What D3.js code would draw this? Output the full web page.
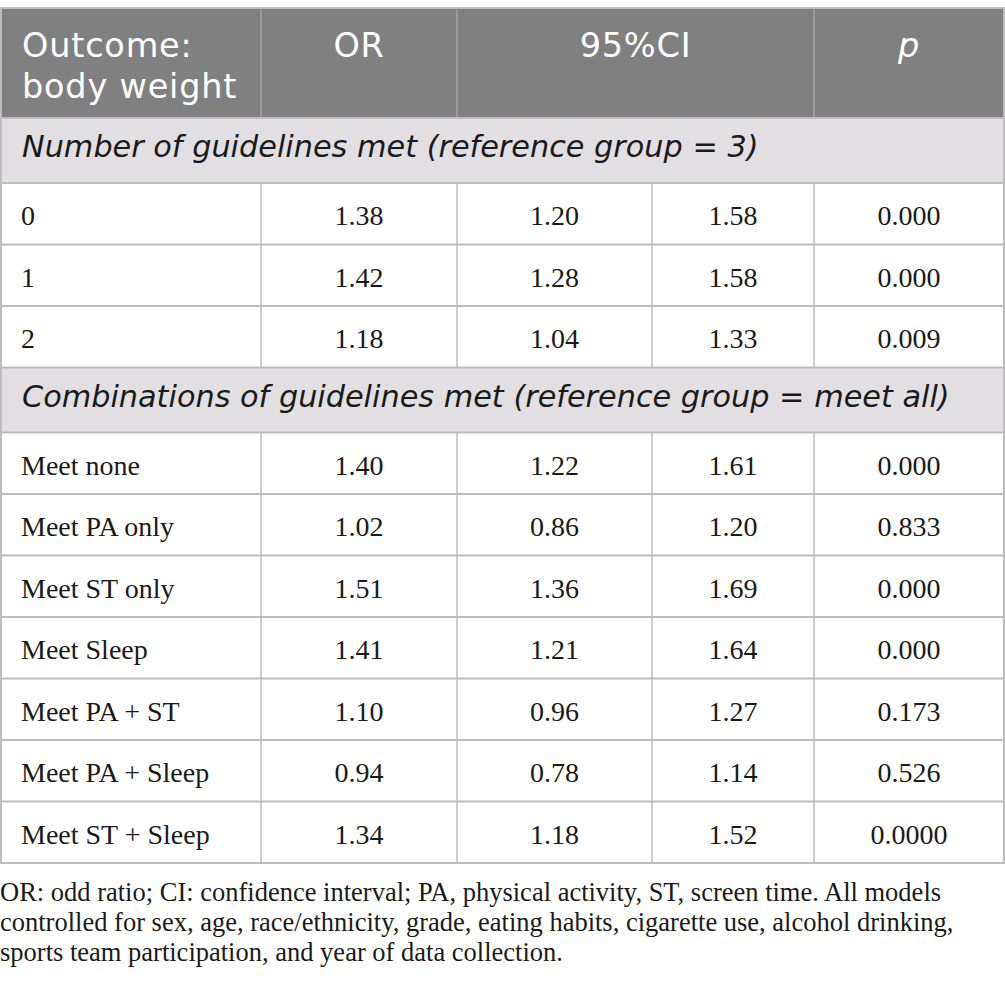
<!DOCTYPE html>
<html>
<head>
<meta charset="utf-8">
<script src="https://cdn.jsdelivr.net/npm/d3@7"></script>
<style>
  body { margin: 0; background: #fff; }
  .sans { font-family: "DejaVu Sans", sans-serif; }
  .serif { font-family: "Liberation Serif", serif; }
</style>
</head>
<body>
<div id="table"></div>
<script>
var svgWidth = 1005;
var svgHeight = 994;

// table content
var headerLabels = ["Outcome:", "body weight"];
var columnTitles = ["OR", "95%CI", "p"];
var section1Title = "Number of guidelines met (reference group = 3)";
var section2Title = "Combinations of guidelines met (reference group = meet all)";

var group1Labels = ["0", "1", "2"];
var group1OR = [1.38, 1.42, 1.18];
var group1Low = [1.20, 1.28, 1.04];
var group1High = [1.58, 1.58, 1.33];
var group1P = ["0.000", "0.000", "0.009"];

var group2Labels = ["Meet none", "Meet PA only", "Meet ST only", "Meet Sleep",
  "Meet PA + ST", "Meet PA + Sleep", "Meet ST + Sleep"];
var group2OR = [1.40, 1.02, 1.51, 1.41, 1.10, 0.94, 1.34];
var group2Low = [1.22, 0.86, 1.36, 1.21, 0.96, 0.78, 1.18];
var group2High = [1.61, 1.20, 1.69, 1.64, 1.27, 1.14, 1.52];
var group2P = ["0.000", "0.833", "0.000", "0.000", "0.173", "0.526", "0.0000"];

var footnote = [
  "OR: odd ratio; CI: confidence interval; PA, physical activity, ST, screen time. All models",
  "controlled for sex, age, race/ethnicity, grade, eating habits, cigarette use, alcohol drinking,",
  "sports team participation, and year of data collection."
];

// layout
var tableTop = 8;
var headerH = 110;
var sectionH = 65;
var rowH = 61.5;
var colEdges = [1, 261, 457, 652, 814, 1004];

var fmt = d3.format(".2f");

function makeRows(labels, or, lo, hi, p) {
  return labels.map(function(l, i) {
    return { type: "data", cells: [l, fmt(or[i]), fmt(lo[i]), fmt(hi[i]), p[i]] };
  });
}

var rows = [{ type: "header" }, { type: "section", text: section1Title }]
  .concat(makeRows(group1Labels, group1OR, group1Low, group1High, group1P))
  .concat([{ type: "section", text: section2Title }])
  .concat(makeRows(group2Labels, group2OR, group2Low, group2High, group2P));

var y = tableTop;
rows.forEach(function(r) {
  r.h = r.type === "header" ? headerH : (r.type === "section" ? sectionH : rowH);
  r.y = y;
  y += r.h;
});
var tableBottom = y;

var x = d3.scaleOrdinal().domain(d3.range(5)).range(colEdges.slice(0, 5));
function colMid(i) { return (colEdges[i] + colEdges[i + 1]) / 2; }

var svg = d3.select("#table")
  .append("svg")
  .attr("width", svgWidth)
  .attr("height", svgHeight);

var rowGroups = svg.selectAll("g.row")
  .data(rows)
  .enter()
  .append("g")
  .attr("class", "row")
  .attr("transform", d => `translate(0, ${d.y})`);

rowGroups.append("rect")
  .attr("x", colEdges[0])
  .attr("width", colEdges[5] - colEdges[0])
  .attr("height", d => d.h)
  .attr("fill", d => d.type === "header" ? "#808080" : (d.type === "section" ? "#e1dfe1" : "#ffffff"));

// header
var header = rowGroups.filter(d => d.type === "header");
header.selectAll("line.v")
  .data([1, 2, 4])
  .enter()
  .append("line")
  .attr("x1", i => x(i)).attr("x2", i => x(i))
  .attr("y1", 0).attr("y2", headerH)
  .attr("stroke", "#a6a6a6")
  .attr("stroke-width", 1.5);

header.selectAll("text.lab")
  .data(headerLabels)
  .enter()
  .append("text")
  .attr("class", "sans")
  .attr("x", 22)
  .attr("y", (d, i) => 49 + i * 41)
  .attr("fill", "#ffffff")
  .attr("font-size", 33.5)
  .attr("letter-spacing", 0.8)
  .text(d => d);

var titleMids = [colMid(1), (colEdges[2] + colEdges[4]) / 2, colMid(4)];
header.selectAll("text.col")
  .data(columnTitles)
  .enter()
  .append("text")
  .attr("class", "sans")
  .attr("x", (d, i) => titleMids[i])
  .attr("y", 49)
  .attr("text-anchor", "middle")
  .attr("fill", "#ffffff")
  .attr("font-size", 33.5)
  .attr("letter-spacing", 0.8)
  .attr("font-style", (d, i) => i === 2 ? "italic" : "normal")
  .text(d => d);

// section rows
rowGroups.filter(d => d.type === "section")
  .append("text")
  .attr("class", "sans")
  .attr("x", 22)
  .attr("y", 39)
  .attr("font-size", 30.3)
  .attr("font-style", "italic")
  .attr("fill", "#1a1a1a")
  .text(d => d.text);

// data rows
var dataRows = rowGroups.filter(d => d.type === "data");
dataRows.selectAll("line.v")
  .data([1, 2, 3, 4])
  .enter()
  .append("line")
  .attr("x1", i => x(i)).attr("x2", i => x(i))
  .attr("y1", 0).attr("y2", rowH)
  .attr("stroke", "#bdbdbd")
  .attr("stroke-width", 1.5);

dataRows.selectAll("text.cell")
  .data(d => d.cells)
  .enter()
  .append("text")
  .attr("class", "serif")
  .attr("x", (d, i) => i === 0 ? 21 : colMid(i))
  .attr("y", 42)
  .attr("text-anchor", (d, i) => i === 0 ? "start" : "middle")
  .attr("font-size", 28)
  .attr("fill", "#1a1a1a")
  .text(d => d);

// horizontal borders between rows
svg.selectAll("line.h")
  .data(rows.slice(1).map(r => r.y).concat([tableBottom]))
  .enter()
  .append("line")
  .attr("x1", colEdges[0]).attr("x2", colEdges[5])
  .attr("y1", d => d).attr("y2", d => d)
  .attr("stroke", "#bdbdbd")
  .attr("stroke-width", 2);

// outer border
svg.append("rect")
  .attr("x", colEdges[0])
  .attr("y", tableTop)
  .attr("width", colEdges[5] - colEdges[0])
  .attr("height", tableBottom - tableTop)
  .attr("fill", "none")
  .attr("stroke", "#bdbdbd")
  .attr("stroke-width", 2);

// footnote
svg.selectAll("text.note")
  .data(footnote)
  .enter()
  .append("text")
  .attr("class", "serif")
  .attr("x", 0)
  .attr("y", (d, i) => tableBottom + 38 + i * 30)
  .attr("font-size", 26.5)
  .attr("fill", "#1a1a1a")
  .text(d => d);
</script>
</body>
</html>
